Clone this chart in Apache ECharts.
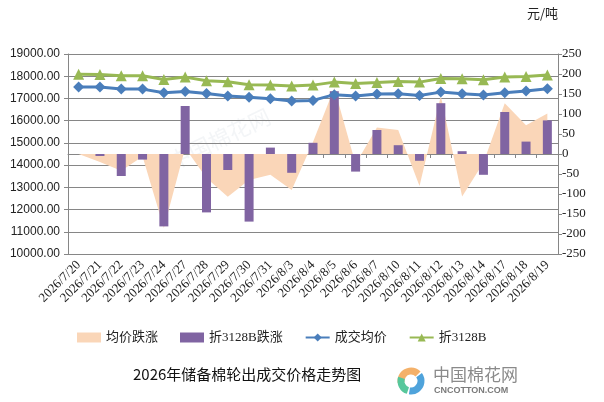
<!DOCTYPE html>
<html>
<head>
<meta charset="utf-8">
<script src="https://cdn.jsdelivr.net/npm/echarts@6/dist/echarts.min.js"></script>
<style>
  html, body { margin: 0; padding: 0; background: #fff; }
  #main { width: 604px; height: 402px; }
</style>
</head>
<body>
<div id="main"></div>
<script>
// 日期
var dates = ['2026/7/20', '2026/7/21', '2026/7/22', '2026/7/23', '2026/7/24',
    '2026/7/27', '2026/7/28', '2026/7/29', '2026/7/30', '2026/7/31',
    '2026/8/3', '2026/8/4', '2026/8/5', '2026/8/6', '2026/8/7',
    '2026/8/10', '2026/8/11', '2026/8/12', '2026/8/13', '2026/8/14',
    '2026/8/17', '2026/8/18', '2026/8/19'];

// 均价跌涨 (右轴, 面积)
var avgChange = [0, -20, -42, -6, -185, 15, -60, -107, -65, -52, -90, 30,
    165, -25, 66, 60, -80, 145, -106, -22, 127, 72, 101];

// 折3128B跌涨 (右轴, 柱)
var b3128Change = [0, -5, -55, -14, -181, 120, -146, -40, -169, 16, -47, 28,
    157, -44, 60, 22, -17, 127, 7, -52, 105, 31, 84];

// 成交均价 (左轴)
var avgPrice = [17510, 17510, 17420, 17420, 17258, 17317, 17227, 17106, 17050,
    16990, 16880, 16913, 17170, 17106, 17196, 17214, 17137, 17285, 17214,
    17150, 17258, 17330, 17438];

// 折3128B (左轴)
var b3128Price = [18094, 18080, 18020, 18020, 17855, 17960, 17797, 17752, 17617,
    17600, 17555, 17600, 17735, 17676, 17720, 17766, 17735, 17900, 17887,
    17842, 17960, 17990, 18050];

var chartDom = document.getElementById('main');
var myChart = echarts.init(chartDom, null, { renderer: 'canvas' });

var axisGrey = '#868686';

var option = {
    animation: false,
    backgroundColor: '#fff',
    textStyle: { fontFamily: '"Liberation Serif", "Noto Sans CJK SC", serif' },
    grid: {
        left: 68,
        right: 46,
        top: 54,
        bottom: 148
    },
    legend: {
        left: 72,
        top: 326,
        itemWidth: 24,
        itemHeight: 10,
        itemGap: 22,
        textStyle: {
            fontFamily: '"Liberation Serif", "Noto Sans CJK SC", serif',
            fontSize: 13,
            color: '#222'
        },
        data: [
            { name: '均价跌涨', icon: 'rect' },
            { name: '折3128B跌涨', icon: 'rect' },
            { name: '成交均价' },
            { name: '折3128B' }
        ]
    },
    graphic: [
        {
            type: 'text',
            left: 527,
            top: 7,
            style: {
                text: '元/吨',
                fontSize: 13,
                fill: '#222',
                fontFamily: '"Noto Sans CJK SC", sans-serif'
            }
        },
        {
            type: 'text',
            left: 133,
            top: 367,
            style: {
                text: '2026年储备棉轮出成交价格走势图',
                fontSize: 15,
                fill: '#111',
                fontFamily: '"Noto Sans CJK SC", sans-serif'
            }
        },
        // logo
        {
            type: 'arc',
            shape: { cx: 411, cy: 381, r: 10, startAngle: Math.PI * 0.95, endAngle: Math.PI * 1.75 },
            style: { stroke: '#F4B16A', lineWidth: 7, fill: null }
        },
        {
            type: 'arc',
            shape: { cx: 411, cy: 381, r: 10, startAngle: Math.PI * 1.8, endAngle: Math.PI * 2.55 },
            style: { stroke: '#4FA3DB', lineWidth: 7, fill: null }
        },
        {
            type: 'arc',
            shape: { cx: 411, cy: 381, r: 10, startAngle: Math.PI * 0.6, endAngle: Math.PI * 1.1 },
            style: { stroke: '#57C79B', lineWidth: 7, fill: null }
        },
        {
            type: 'text',
            left: 433,
            top: 366,
            style: {
                text: '中国棉花网',
                fontSize: 17,
                fill: '#8a8a8a',
                fontFamily: '"Noto Sans CJK SC", sans-serif'
            }
        },
        {
            type: 'text',
            left: 434,
            top: 386,
            style: {
                text: 'CNCOTTON.COM',
                fontSize: 9,
                fontWeight: 'bold',
                fill: '#7a7a7a',
                fontFamily: '"Liberation Sans", sans-serif'
            }
        },
        // 水印
        {
            type: 'text',
            left: 165,
            top: 105,
            rotation: Math.PI / 7,
            z: 0,
            style: {
                text: '中国棉花网',
                fontSize: 22,
                fill: 'rgba(190,200,210,0.18)',
                fontFamily: '"Noto Sans CJK SC", sans-serif'
            }
        }
    ],
    xAxis: {
        type: 'category',
        data: dates,
        boundaryGap: true,
        axisLine: { lineStyle: { color: axisGrey } },
        axisTick: { show: true, length: 4, lineStyle: { color: axisGrey } },
        axisLabel: {
            rotate: 45,
            interval: 0,
            fontSize: 13,
            color: '#222',
            margin: 9,
            fontFamily: '"Liberation Serif", serif'
        }
    },
    yAxis: [
        {
            type: 'value',
            min: 10000,
            max: 19000,
            interval: 1000,
            axisLine: { show: true, lineStyle: { color: axisGrey } },
            axisTick: { show: true, length: 4, lineStyle: { color: axisGrey } },
            splitLine: { show: true, lineStyle: { color: axisGrey, width: 1 } },
            axisLabel: {
                fontSize: 12,
                color: '#222',
                margin: 8,
                fontFamily: '"Liberation Sans", sans-serif',
                formatter: function (v) { return v.toFixed(2); }
            }
        },
        {
            type: 'value',
            min: -250,
            max: 250,
            interval: 50,
            position: 'right',
            axisLine: { show: true, lineStyle: { color: axisGrey } },
            axisTick: { show: true, length: 4, lineStyle: { color: axisGrey } },
            splitLine: { show: false },
            axisLabel: {
                fontSize: 13,
                color: '#222',
                margin: 4,
                fontFamily: '"Liberation Serif", serif'
            }
        }
    ],
    series: [
        {
            name: '均价跌涨',
            type: 'line',
            yAxisIndex: 1,
            data: avgChange,
            symbol: 'none',
            lineStyle: { width: 0, color: '#FAD6B8' },
            itemStyle: { color: '#FAD6B8' },
            areaStyle: { color: '#FAD6B8', opacity: 1 },
            z: 1
        },
        {
            name: '折3128B跌涨',
            type: 'bar',
            yAxisIndex: 1,
            data: b3128Change,
            barWidth: 9,
            itemStyle: { color: '#8064A2' },
            z: 2
        },
        {
            name: '成交均价',
            type: 'line',
            yAxisIndex: 0,
            data: avgPrice,
            symbol: 'diamond',
            symbolSize: 11,
            lineStyle: { width: 3, color: '#4A7EBB' },
            itemStyle: { color: '#4A7EBB' },
            z: 4
        },
        {
            name: '折3128B',
            type: 'line',
            yAxisIndex: 0,
            data: b3128Price,
            symbol: 'triangle',
            symbolSize: 11,
            lineStyle: { width: 3, color: '#98B954' },
            itemStyle: { color: '#98B954' },
            z: 3
        }
    ]
};

option && myChart.setOption(option);
</script>
</body>
</html>
